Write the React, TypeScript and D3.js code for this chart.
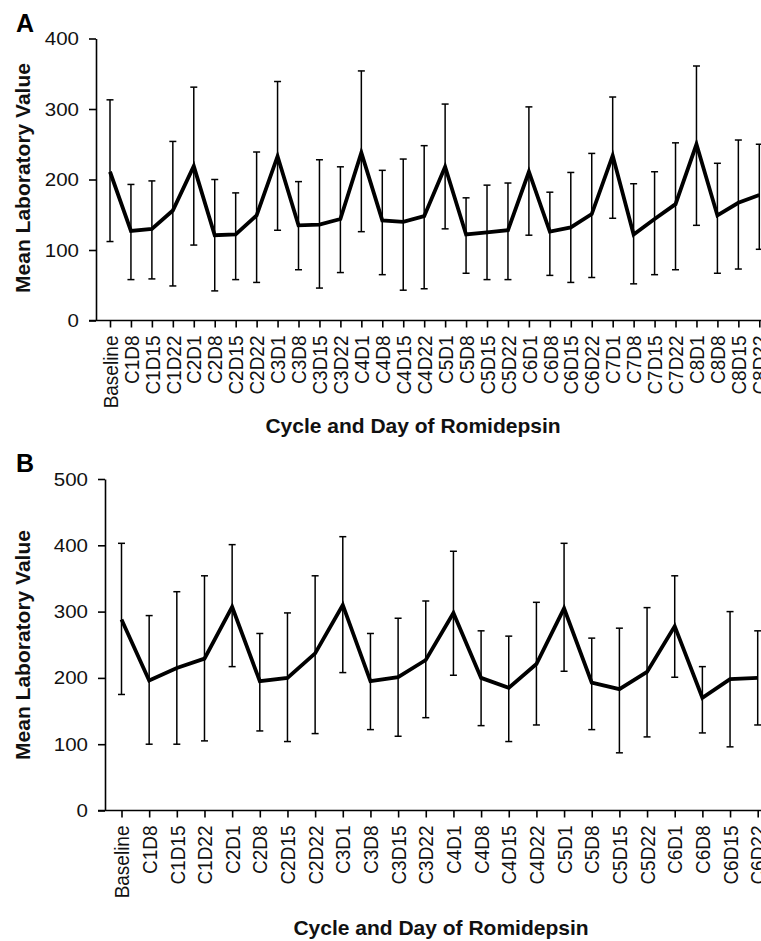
import { useEffect, useRef } from "react";
import * as d3 from "d3";

// Panel A: cycles 1-8
const catsA = [
  "Baseline", "C1D8", "C1D15", "C1D22",
  "C2D1", "C2D8", "C2D15", "C2D22",
  "C3D1", "C3D8", "C3D15", "C3D22",
  "C4D1", "C4D8", "C4D15", "C4D22",
  "C5D1", "C5D8", "C5D15", "C5D22",
  "C6D1", "C6D8", "C6D15", "C6D22",
  "C7D1", "C7D8", "C7D15", "C7D22",
  "C8D1", "C8D8", "C8D15", "C8D22",
];
const meanA = [
  211, 127, 130, 156, 219, 121, 122, 149, 233, 135, 136, 144, 238, 142, 140, 148,
  218, 122, 125, 128, 211, 126, 132, 151, 234, 122, 144, 165, 250, 149, 167, 178,
];
const upperA = [
  313, 193, 198, 254, 331, 200, 181, 239, 339, 197, 228, 218, 354, 213, 229, 248,
  307, 174, 192, 195, 303, 182, 210, 237, 317, 194, 211, 252, 361, 223, 256, 250,
];
const lowerA = [
  112, 58, 59, 49, 107, 42, 58, 54, 128, 72, 46, 68, 126, 65, 43, 45,
  130, 67, 58, 58, 121, 64, 54, 61, 145, 52, 65, 72, 135, 67, 73, 101,
];
const ticksA = [0, 100, 200, 300, 400];

// Panel B: cycles 1-6
const catsB = [
  "Baseline", "C1D8", "C1D15", "C1D22",
  "C2D1", "C2D8", "C2D15", "C2D22",
  "C3D1", "C3D8", "C3D15", "C3D22",
  "C4D1", "C4D8", "C4D15", "C4D22",
  "C5D1", "C5D8", "C5D15", "C5D22",
  "C6D1", "C6D8", "C6D15", "C6D22",
];
const meanB = [
  288, 196, 215, 229, 307, 195, 200, 237, 310, 195, 201, 227,
  298, 200, 185, 221, 305, 193, 183, 209, 278, 170, 198, 200,
];
const upperB = [
  403, 294, 330, 354, 401, 267, 298, 354, 413, 267, 290, 316,
  391, 271, 263, 314, 403, 260, 275, 306, 354, 217, 300, 271,
];
const lowerB = [
  175, 100, 100, 105, 217, 120, 104, 116, 208, 122, 112, 140,
  204, 128, 104, 129, 210, 122, 87, 111, 201, 117, 96, 129,
];
const ticksB = [0, 100, 200, 300, 400, 500];

const FONT = "'Liberation Sans', Arial, Helvetica, sans-serif";
const STRETCH = 1.08; // the source figure is slightly wider than tall

interface PanelSpec {
  letter: string;
  letterY: number;
  cats: string[];
  mean: number[];
  upper: number[];
  lower: number[];
  ticks: number[];
  axisX: number;
  top: number;
  bottom: number;
  xFirst: number;
  xLast: number;
  titleX: number;
  titleY: number;
  ylabelY: number;
}

const panels: PanelSpec[] = [
  {
    letter: "A", letterY: 32,
    cats: catsA, mean: meanA, upper: upperA, lower: lowerA, ticks: ticksA,
    axisX: 96, top: 38.5, bottom: 320.5, xFirst: 110, xLast: 759.3,
    titleX: 413, titleY: 433, ylabelY: 178,
  },
  {
    letter: "B", letterY: 472,
    cats: catsB, mean: meanB, upper: upperB, lower: lowerB, ticks: ticksB,
    axisX: 105, top: 479, bottom: 810.5, xFirst: 121.5, xLast: 757.7,
    titleX: 441, titleY: 935, ylabelY: 645,
  },
];

export default function App() {
  const svgRef = useRef<SVGSVGElement>(null);

  useEffect(() => {
    if (!svgRef.current) return;
    const svg = d3.select(svgRef.current);
    svg.selectAll("*").remove();

    panels.forEach((p) => {
      const g = svg.append("g");
      const x = d3.scalePoint<string>().domain(p.cats).range([p.xFirst, p.xLast]);
      const y = d3
        .scaleLinear()
        .domain([0, p.ticks[p.ticks.length - 1]])
        .range([p.bottom, p.top]);

      // panel letter
      g.append("text")
        .attr("x", 16)
        .attr("y", p.letterY)
        .attr("font-family", FONT)
        .attr("font-weight", "bold")
        .attr("font-size", 25)
        .text(p.letter);

      // y axis
      const yAxis = g
        .append("g")
        .attr("transform", `translate(${p.axisX},0)`)
        .call(d3.axisLeft(y).tickValues(p.ticks).tickSize(7).tickSizeOuter(0));
      yAxis.select(".domain").attr("stroke", "#000").attr("stroke-width", 1.6);
      yAxis.selectAll(".tick line").attr("stroke", "#000").attr("stroke-width", 1.6);
      yAxis
        .selectAll(".tick text")
        .attr("transform", `scale(${STRETCH},1)`)
        .attr("x", -17 / STRETCH)
        .attr("font-family", FONT)
        .attr("font-size", 19)
        .attr("fill", "#111");

      // x axis
      const xAxis = g
        .append("g")
        .attr("transform", `translate(0,${p.bottom})`)
        .call(d3.axisBottom(x).tickSize(7).tickSizeOuter(0));
      xAxis.select(".domain").remove();
      xAxis.selectAll(".tick line").attr("stroke", "#000").attr("stroke-width", 1.6);
      xAxis
        .selectAll(".tick text")
        .attr("transform", `rotate(-90) scale(1,${STRETCH})`)
        .attr("x", -15)
        .attr("y", 0)
        .attr("dy", "0.35em")
        .style("text-anchor", "end")
        .attr("font-family", FONT)
        .attr("font-size", 19)
        .attr("fill", "#111");
      g.append("line")
        .attr("x1", p.axisX - 7)
        .attr("x2", 761)
        .attr("y1", p.bottom)
        .attr("y2", p.bottom)
        .attr("stroke", "#000")
        .attr("stroke-width", 1.6);

      // error bars
      const eb = g
        .append("g")
        .attr("stroke", "#000")
        .attr("stroke-width", 1.5)
        .selectAll("g")
        .data(p.cats)
        .enter()
        .append("g");
      eb.append("line")
        .attr("x1", (d) => x(d)!)
        .attr("x2", (d) => x(d)!)
        .attr("y1", (_d, i) => y(p.upper[i]))
        .attr("y2", (_d, i) => y(p.lower[i]));
      eb.append("line")
        .attr("x1", (d) => x(d)! - 3.5)
        .attr("x2", (d) => x(d)! + 3.5)
        .attr("y1", (_d, i) => y(p.upper[i]))
        .attr("y2", (_d, i) => y(p.upper[i]));
      eb.append("line")
        .attr("x1", (d) => x(d)! - 3.5)
        .attr("x2", (d) => x(d)! + 3.5)
        .attr("y1", (_d, i) => y(p.lower[i]))
        .attr("y2", (_d, i) => y(p.lower[i]));

      // mean line
      const line = d3
        .line<number>()
        .x((_d, i) => x(p.cats[i])!)
        .y((d) => y(d));
      g.append("path")
        .datum(p.mean)
        .attr("d", line)
        .attr("fill", "none")
        .attr("stroke", "#000")
        .attr("stroke-width", 3.8)
        .attr("stroke-linejoin", "miter");

      // axis titles
      g.append("text")
        .attr("transform", `translate(30,${p.ylabelY}) rotate(-90)`)
        .attr("text-anchor", "middle")
        .attr("font-family", FONT)
        .attr("font-weight", "bold")
        .attr("font-size", 21)
        .attr("fill", "#111")
        .text("Mean Laboratory Value");
      g.append("text")
        .attr("x", p.titleX)
        .attr("y", p.titleY)
        .attr("text-anchor", "middle")
        .attr("font-family", FONT)
        .attr("font-weight", "bold")
        .attr("font-size", 21)
        .attr("fill", "#111")
        .text("Cycle and Day of Romidepsin");
    });
  }, []);

  return (
    <svg
      ref={svgRef}
      width={761}
      height={941}
      style={{ position: "absolute", left: 0, top: 0, background: "#fff" }}
    />
  );
}
